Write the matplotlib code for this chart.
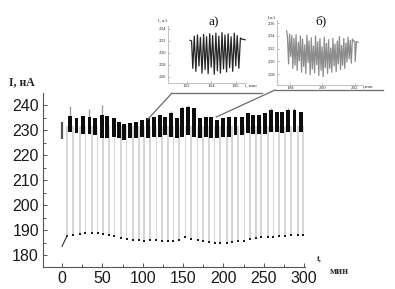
import matplotlib
matplotlib.use('Agg')
import matplotlib.pyplot as plt
from matplotlib.lines import Line2D
from matplotlib.patches import ConnectionPatch
from matplotlib.ticker import MultipleLocator

# ── Данные ──────────────────────────────────────────────────────────────
# центры «плато» (мин) и границы чёрной полосы (нА)
bar_t = [10, 18, 26, 34, 41, 49, 56, 64, 71, 77, 84, 92, 99, 106, 114, 121,
         128, 135, 142, 149, 156, 163, 171, 178, 185, 192, 200, 207, 215, 223,
         230, 237, 244, 251, 259, 266, 273, 280, 288, 296]
bar_top = [235.7, 234.9, 235.7, 235.3, 234.7, 236.0, 235.7, 234.7, 233.3, 232.3,
           232.7, 233.3, 234.0, 234.7, 235.3, 236.0, 235.3, 236.7, 234.7, 238.7,
           239.3, 238.7, 234.7, 235.3, 235.3, 234.0, 234.7, 235.3, 235.3, 235.3,
           236.7, 236.0, 236.0, 236.7, 238.0, 237.3, 237.3, 238.0, 238.0, 237.3]
bar_bot = [229.1, 229.0, 228.3, 228.3, 228.0, 226.7, 226.9, 227.3, 226.9, 226.0,
           226.7, 226.7, 227.3, 226.7, 227.3, 227.3, 228.0, 227.3, 226.9, 227.3,
           228.0, 227.3, 226.7, 227.3, 226.7, 226.7, 227.3, 227.3, 228.0, 228.0,
           228.7, 228.3, 228.3, 228.3, 229.3, 229.1, 228.7, 229.3, 229.3, 229.1]

# тонкие выбросы вверх над плато
spike_t = [10, 34, 49, 135, 149, 156, 259, 280, 288]
spike_top = [239.5, 238.5, 240.0, 237.5, 239.5, 240.2, 238.8, 239.0, 239.0]

# провалы тока между плато
gap_t = [6.5, 14, 22, 29, 37, 44, 51, 58, 65, 73, 80, 88, 95, 102, 109, 117,
         124, 131, 138, 145, 153, 160, 168, 175, 182, 189, 196, 204, 211, 218,
         226, 233, 240, 247, 255, 262, 269, 276, 284, 292, 299]
gap_low = [187.8, 188.0, 188.4, 188.7, 188.9, 188.7, 188.3, 188.0, 187.6, 186.7,
           186.4, 186.0, 186.0, 185.6, 186.0, 186.0, 185.7, 185.7, 185.6, 186.0,
           187.3, 186.3, 186.0, 185.7, 185.3, 184.9, 184.7, 184.9, 185.1, 185.6,
           185.6, 186.3, 186.7, 187.1, 187.3, 187.3, 187.6, 187.6, 188.0, 188.0,
           188.0]

start_t = [0, 6.5]
start_i = [183.5, 187.8]
first_t = 0
first_lo, first_hi = 226.3, 233.3

# вставка а)
ins_a_t = [102.27, 102.40, 102.50, 102.62, 102.75, 102.88, 103.00, 103.12, 103.25,
           103.38, 103.50, 103.62, 103.75, 103.88, 104.00, 104.12, 104.25, 104.38,
           104.50, 104.62, 104.75, 104.88, 105.00, 105.12, 105.25, 105.38, 105.50,
           105.62, 105.75, 105.88, 106.00, 106.12, 106.25, 106.38, 106.50, 106.76]
ins_a_i = [232.1, 232.0, 227.4, 232.8, 226.9, 233.0, 227.8, 232.6, 226.6, 233.1,
           227.2, 232.7, 226.5, 233.2, 227.6, 232.9, 226.4, 233.3, 227.0, 232.8,
           226.6, 233.4, 227.3, 233.0, 226.8, 233.2, 227.5, 232.7, 226.9, 233.3,
           227.8, 232.9, 227.4, 232.5, 232.3, 232.2]

# вставка б)
ins_b_t = [197.80, 197.85, 197.92, 197.98, 198.05, 198.12, 198.18, 198.25, 198.32,
           198.38, 198.45, 198.52, 198.58, 198.65, 198.72, 198.78, 198.85, 198.92,
           198.98, 199.05, 199.12, 199.18, 199.25, 199.32, 199.38, 199.45, 199.52,
           199.58, 199.65, 199.72, 199.78, 199.85, 199.92, 199.98, 200.05, 200.12,
           200.18, 200.25, 200.32, 200.38, 200.45, 200.52, 200.58, 200.65, 200.72,
           200.78, 200.85, 200.92, 200.98, 201.05, 201.12, 201.18, 201.25, 201.32,
           201.38, 201.45, 201.52, 201.58, 201.65, 201.72, 201.78, 201.85, 201.92,
           202.00, 202.02, 202.10, 202.20]
ins_b_i = [234.8, 233.9, 229.6, 234.3, 230.8, 234.1, 228.9, 233.6, 229.4, 234.2,
           228.6, 233.0, 230.1, 234.0, 228.3, 233.5, 229.2, 232.6, 228.1, 234.1,
           229.8, 233.2, 227.9, 233.7, 228.8, 232.4, 228.2, 234.0, 229.5, 233.1,
           227.8, 233.6, 228.6, 232.3, 227.6, 233.8, 229.0, 232.8, 228.1, 233.4,
           228.9, 232.1, 228.3, 233.6, 229.3, 232.7, 228.4, 233.2, 229.6, 233.9,
           228.7, 232.5, 229.4, 233.6, 228.9, 232.9, 229.9, 233.8, 230.4, 233.3,
           229.7, 233.5, 233.2, 233.1, 230.0, 233.1, 233.0]

main_xticks = [0, 50, 100, 150, 200, 250, 300]
main_yticks = [180, 190, 200, 210, 220, 230, 240]

sans = 'Liberation Sans'
serif = 'Liberation Serif'

fig = plt.figure(figsize=(3.95, 2.89), dpi=100)

# ── Основной график ─────────────────────────────────────────────────────
ax = fig.add_axes([0.109, 0.076, 0.663, 0.602])

# светлые вертикальные линии провалов
strip_top = [231.5] * len(gap_t)
ax.bar(gap_t, [h - l for h, l in zip(strip_top, gap_low)], bottom=gap_low,
       width=2.2, color='#d6d6d6', linewidth=0, zorder=1)
ax.plot(gap_t, gap_low, 's', ms=1.7, color='#1a1a1a', mew=0, zorder=3)
ax.plot(start_t, start_i, color='#444444', lw=0.9, zorder=3)

# плато с шумом
spike_base = [bar_top[bar_t.index(t)] for t in spike_t]
ax.vlines(spike_t, spike_base, spike_top, color='#a0a0a0', lw=1.0, zorder=2)
ax.bar(bar_t, [t - b for t, b in zip(bar_top, bar_bot)], bottom=bar_bot,
       width=4.8, color='#0d0d0d', linewidth=0, zorder=2)
ax.vlines([first_t], [first_lo], [first_hi], color='#555555', lw=1.6, zorder=2)

ax.set_xlim(-23.5, 301)
ax.set_ylim(175.2, 244.8)
ax.set_xticks(main_xticks)
ax.set_yticks(main_yticks)
ax.xaxis.set_minor_locator(MultipleLocator(25))
ax.yaxis.set_minor_locator(MultipleLocator(5))
ax.tick_params(which='both', direction='in', color='#555555', width=0.7,
               labelsize=11.5, labelcolor='#1a1a1a', pad=3)
ax.tick_params(which='major', length=3)
ax.tick_params(which='minor', length=2)
for lab in ax.get_xticklabels() + ax.get_yticklabels():
    lab.set_fontfamily(sans)
for s in ['top', 'right']:
    ax.spines[s].set_visible(False)
for s in ['left', 'bottom']:
    ax.spines[s].set_color('#555555')
    ax.spines[s].set_linewidth(0.8)

fig.text(0.022, 0.705, 'I, нА', fontfamily=serif, fontweight='bold',
         fontsize=8.5, color='#222222')
fig.text(0.802, 0.107, 't,', fontfamily=serif, fontweight='bold',
         fontsize=6, color='#222222', va='center')
fig.text(0.835, 0.059, 'мин', fontfamily=serif, fontweight='bold',
         fontsize=7.5, color='#333333', va='center')


def mini_axes(rect, xlim, ylim, xt, yt):
    a = fig.add_axes(rect)
    a.set_xlim(*xlim)
    a.set_ylim(*ylim)
    a.set_xticks(xt)
    a.set_yticks(yt)
    a.tick_params(direction='in', length=1.5, width=0.4, color='#888888',
                  labelsize=3.6, labelcolor='#333333', pad=1)
    for lab in a.get_xticklabels() + a.get_yticklabels():
        lab.set_fontfamily(serif)
    for s in ['top', 'right']:
        a.spines[s].set_visible(False)
    for s in ['left', 'bottom']:
        a.spines[s].set_color('#aaaaaa')
        a.spines[s].set_linewidth(0.5)
    a.patch.set_alpha(0)
    return a


# ── Вставка а) ──────────────────────────────────────────────────────────
ax_a = mini_axes([0.425, 0.714, 0.198, 0.196], (100.47, 106.84), (225, 234.5),
                 [102, 104, 106], [226, 228, 230, 232, 234])
ax_a.plot(ins_a_t, ins_a_i, color='#262626', lw=0.9)
fig.text(0.401, 0.925, 'I, нА', fontfamily=serif, fontsize=3.3, color='#333333')
fig.text(0.620, 0.700, 't, мин', fontfamily=serif, fontsize=3.3, color='#333333')
fig.text(0.542, 0.924, 'а)', fontfamily=serif, fontsize=9.5, ha='center',
         va='center', color='#111111')

# ── Вставка б) ──────────────────────────────────────────────────────────
ax_b = mini_axes([0.701, 0.706, 0.215, 0.225], (197.2, 202.43), (226.3, 236.5),
                 [198, 200, 202], [228, 230, 232, 234, 236])
ax_b.plot(ins_b_t, ins_b_i, color='#8c8c8c', lw=0.9)
fig.text(0.677, 0.935, 'I,нА', fontfamily=serif, fontsize=3.3, color='#333333')
fig.text(0.918, 0.695, 't,мин', fontfamily=serif, fontsize=3.3, color='#333333')
fig.text(0.812, 0.928, 'б)', fontfamily=serif, fontsize=9.5, ha='center',
         va='center', color='#111111')

# ── Выноски ─────────────────────────────────────────────────────────────
for xyA, xyB, xend in [((106.5, 234.4), (172 / 395, 1 - 93 / 289), 262 / 395),
                       ((191, 235.2), (275 / 395, 1 - 90 / 289), 383 / 395)]:
    con = ConnectionPatch(xyA=xyA, coordsA=ax.transData, xyB=xyB,
                          coordsB=fig.transFigure, color='#6a6a6a', lw=0.9)
    fig.add_artist(con)
    fig.add_artist(Line2D([xyB[0], xend], [xyB[1], xyB[1]],
                          transform=fig.transFigure, color='#6a6a6a', lw=0.9))

fig.savefig('out.png', dpi=100)
